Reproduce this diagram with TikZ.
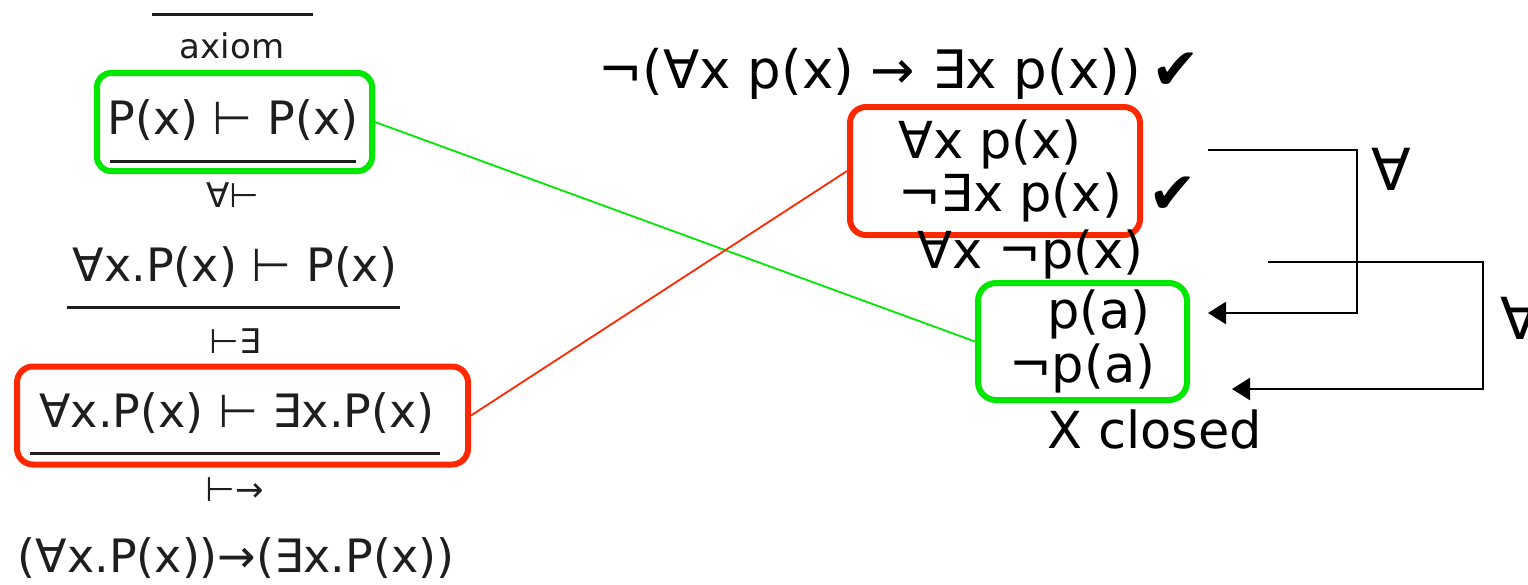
\documentclass[tikz,border=0pt]{standalone}
\usepackage{fontspec}
\setmainfont{DejaVu Sans}
\usetikzlibrary{arrows.meta}
\definecolor{boxgreen}{RGB}{0,232,0}
\definecolor{boxred}{RGB}{255,40,0}
\definecolor{ink}{RGB}{30,30,30}
\tikzset{
  lt/.style={inner sep=0pt, text=ink, font=\fontsize{46}{50}\selectfont},
  rulename/.style={inner sep=0pt, text=ink, font=\fontsize{34}{38}\selectfont},
  rt/.style={inner sep=0pt, text=black, font=\fontsize{51}{58}\selectfont},
  bigq/.style={inner sep=0pt, text=black, font=\fontsize{58}{64}\selectfont},
  tick/.style={inner sep=0pt, text=black, font=\fontsize{58}{64}\selectfont},
  prule/.style={draw=ink, line width=3pt},
  gbox/.style={draw=boxgreen, line width=6pt, rounded corners=14pt, inner sep=0pt},
  rbox/.style={draw=boxred, line width=6pt, rounded corners=16pt, inner sep=0pt},
  glink/.style={draw=boxgreen, line width=1.8pt},
  rlink/.style={draw=boxred, line width=1.8pt},
  arr/.style={draw=black, line width=2.4pt, -{Triangle[length=18pt,width=22pt]}}
}
\begin{document}
\begin{tikzpicture}[x=1pt,y=-1pt]
\useasboundingbox (0,0) rectangle (1528,584);
\clip (0,0) rectangle (1528,584);
% left proof
\coordinate (r1a) at (152,14); \coordinate (r1b) at (313,14);
\draw[prule] (r1a) -- (r1b);
\node[rulename] (axiom) at (232,46) {axiom};
\node[gbox, minimum width=275pt, minimum height=98pt] (gb1) at (234.5,122) {};
\node[lt] (s1) at (233,120) {P(x) ⊢ P(x)};
\coordinate (r2a) at (110,161); \coordinate (r2b) at (356,161);
\draw[prule] (r2a) -- (r2b);
\node[rulename] (n1) at (233,195) {∀⊢};
\node[lt] (s2) at (235,267) {∀x.P(x) ⊢ P(x)};
\coordinate (r3a) at (67,307); \coordinate (r3b) at (400,307);
\draw[prule] (r3a) -- (r3b);
\node[rulename] (n2) at (235,341) {⊢∃};
\node[rbox, minimum width=451pt, minimum height=98pt] (rb1) at (242.5,415.5) {};
\node[lt] (s3) at (237,413) {∀x.P(x) ⊢ ∃x.P(x)};
\coordinate (r4a) at (30,453); \coordinate (r4b) at (440,453);
\draw[prule] (r4a) -- (r4b);
\node[rulename] (n3) at (235,490) {⊢→};
\node[lt] (s4) at (236,558) {(∀x.P(x))→(∃x.P(x))};
% right tableau
\node[rt, anchor=west, font=\fontsize{53}{60}\selectfont] (t0) at (598,74) {¬(∀x p(x) → ∃x p(x))};
\node[tick] (ck0) at (1176,71) {✔};
\node[rbox, minimum width=290pt, minimum height=128pt] (rb2) at (995,171) {};
\node[rt, anchor=west] (t1) at (898,144) {∀x p(x)};
\node[rt, anchor=west] (t2) at (898,197) {¬∃x p(x)};
\node[tick] (ck) at (1173,195) {✔};
\node[rt, anchor=west] (t3) at (917,254) {∀x ¬p(x)};
\node[gbox, minimum width=209pt, minimum height=117pt, rounded corners=18pt] (gb2) at (1082.5,341.5) {};
\node[rt, anchor=west] (t4) at (1047,314) {p(a)};
\node[rt, anchor=west] (t5) at (1009,368) {¬p(a)};
\node[rt, anchor=west] (t6) at (1047,429) {X closed};
% links
\draw[glink] (gb1.east) -- (gb2.west);
\draw[rlink] (rb1.east) -- (rb2.west);
% arrows
\coordinate (a1s) at (1208,150); \coordinate (a1t) at (1208,313);
\draw[arr] (a1s) -- ++(149,0) |- (a1t);
\node[bigq] (q1) at (1391,169) {∀};
\coordinate (a2s) at (1268,262); \coordinate (a2t) at (1232,389);
\draw[arr] (a2s) -- ++(215,0) |- (a2t);
\node[bigq] (q2) at (1520,318) {∀};
\end{tikzpicture}
\end{document}
